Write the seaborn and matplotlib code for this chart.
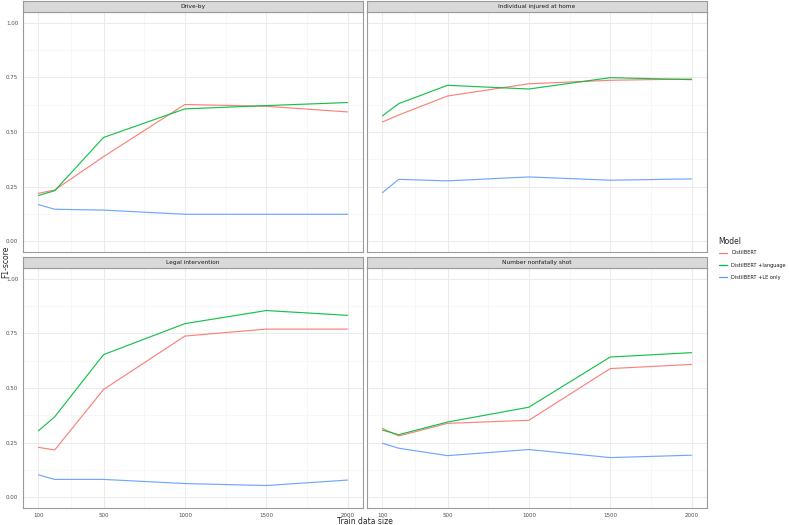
import numpy as np
import pandas as pd
import matplotlib
matplotlib.use("Agg")
import matplotlib.pyplot as plt
import seaborn as sns

# Data
train_sizes = [100, 200, 500, 1000, 1500, 2000]
models = ["DistilBERT", "DistilBERT +language", "DistilBERT +LE only"]
panels = ["Drive-by", "Individual injured at home", "Legal intervention", "Number nonfatally shot"]

drive_by = {
    "DistilBERT": [0.219, 0.234, 0.387, 0.626, 0.618, 0.592],
    "DistilBERT +language": [0.209, 0.231, 0.475, 0.606, 0.621, 0.635],
    "DistilBERT +LE only": [0.167, 0.146, 0.142, 0.123, 0.123, 0.123],
}
injured_home = {
    "DistilBERT": [0.546, 0.578, 0.665, 0.721, 0.737, 0.743],
    "DistilBERT +language": [0.574, 0.630, 0.714, 0.697, 0.749, 0.740],
    "DistilBERT +LE only": [0.222, 0.283, 0.276, 0.294, 0.279, 0.285],
}
legal_intervention = {
    "DistilBERT": [0.228, 0.216, 0.493, 0.738, 0.770, 0.770],
    "DistilBERT +language": [0.304, 0.368, 0.653, 0.795, 0.855, 0.833],
    "DistilBERT +LE only": [0.102, 0.081, 0.081, 0.062, 0.053, 0.078],
}
nonfatally_shot = {
    "DistilBERT": [0.315, 0.280, 0.338, 0.352, 0.589, 0.608],
    "DistilBERT +language": [0.307, 0.286, 0.344, 0.412, 0.642, 0.662],
    "DistilBERT +LE only": [0.247, 0.224, 0.190, 0.218, 0.181, 0.192],
}
panel_data = [drive_by, injured_home, legal_intervention, nonfatally_shot]

x_breaks = [100, 500, 1000, 1500, 2000]
x_minor = [300, 750, 1250, 1750]
y_breaks = [0.0, 0.25, 0.5, 0.75, 1.0]
y_minor = [0.125, 0.375, 0.625, 0.875]

palette = {"DistilBERT": "#F8766D", "DistilBERT +language": "#00BA38", "DistilBERT +LE only": "#619CFF"}

rows = []
for name, d in zip(panels, panel_data):
    for m in models:
        for x, v in zip(train_sizes, d[m]):
            rows.append({"panel": name, "Model": m, "size": x, "F1": v})
df = pd.DataFrame(rows)

sns.set_style("white")
plt.rcParams["font.family"] = ["DejaVu Sans"]

W, H = 789, 525
fig = plt.figure(figsize=(W / 100, H / 100), dpi=100)

# panel boxes in pixels: (left, right, top, bottom)
xs = [(23, 363), (367, 707)]
ys = [(12, 252), (268, 508)]
strip_h = 11

border = "#9a9a9a"
for i, name in enumerate(panels):
    r, c = divmod(i, 2)
    x0, x1 = xs[c]
    y0, y1 = ys[r]
    ax = fig.add_axes([x0 / W, 1 - y1 / H, (x1 - x0) / W, (y1 - y0) / H])
    sub = df[df["panel"] == name]
    sns.lineplot(data=sub, x="size", y="F1", hue="Model", hue_order=models,
                 palette=palette, linewidth=0.85, alpha=0.9, ax=ax, legend=False)
    ax.set_xlim(5, 2095)
    ax.set_ylim(-0.05, 1.05)
    for v in x_minor:
        ax.axvline(v, color="#f2f2f2", lw=0.4, zorder=0)
    for v in x_breaks:
        ax.axvline(v, color="#ebebeb", lw=0.7, zorder=0)
    for v in y_minor:
        ax.axhline(v, color="#f2f2f2", lw=0.4, zorder=0)
    for v in y_breaks:
        ax.axhline(v, color="#ebebeb", lw=0.7, zorder=0)
    ax.set_xticks(x_breaks)
    ax.set_yticks(y_breaks)
    ax.set_xlabel("")
    ax.set_ylabel("")
    ax.tick_params(length=2, width=0.5, color="#555555", labelsize=4, labelcolor="#4d4d4d", pad=1.5)
    if r == 0:
        ax.tick_params(axis="x", labelbottom=False, length=0)
    else:
        ax.set_xticklabels([str(v) for v in x_breaks])
    if c == 0:
        ax.set_yticklabels(["0.00", "0.25", "0.50", "0.75", "1.00"])
    else:
        ax.tick_params(axis="y", labelleft=False, length=0)
    for s in ax.spines.values():
        s.set_color(border)
        s.set_linewidth(0.8)

    # facet strip
    sax = fig.add_axes([x0 / W, 1 - y0 / H, (x1 - x0) / W, strip_h / H])
    sax.set_facecolor("#d9d9d9")
    sax.set_xticks([])
    sax.set_yticks([])
    for s in sax.spines.values():
        s.set_color(border)
        s.set_linewidth(0.8)
    sax.text(0.5, 0.5, name, ha="center", va="center", fontsize=4.2, color="#1a1a1a",
             transform=sax.transAxes)

fig.text(365 / W, 1 - 521 / H, "Train data size", ha="center", va="center", fontsize=5.5)
fig.text(6 / W, 1 - 262 / H, "F1-score", ha="center", va="center", rotation=90, fontsize=5.5)

# legend
fig.text(718 / W, 1 - 241 / H, "Model", ha="left", va="center", fontsize=5.5)
for k, m in enumerate(models):
    yy = 1 - (253 + 12 * k) / H
    fig.add_artist(plt.Line2D([719 / W, 727 / W], [yy, yy], color=palette[m], lw=0.9))
    fig.text(731 / W, yy, m, ha="left", va="center", fontsize=3.6, color="#1a1a1a")

fig.savefig("out.png", dpi=100)
